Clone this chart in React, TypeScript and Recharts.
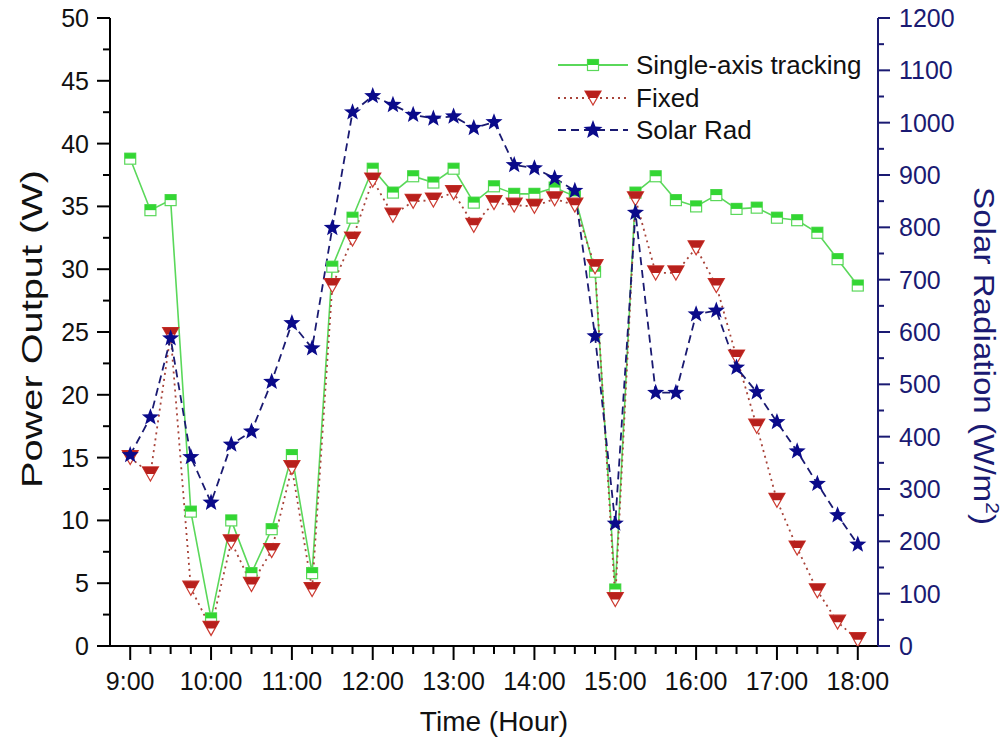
import React from "react";
import { ComposedChart, Line, XAxis, YAxis } from "recharts";

const times = [
  "9:00", "9:15", "9:30", "9:45", "10:00", "10:15", "10:30", "10:45",
  "11:00", "11:15", "11:30", "11:45", "12:00", "12:15", "12:30", "12:45",
  "13:00", "13:15", "13:30", "13:45", "14:00", "14:15", "14:30", "14:45",
  "15:00", "15:15", "15:30", "15:45", "16:00", "16:15", "16:30", "16:45",
  "17:00", "17:15", "17:30", "17:45", "18:00",
];
const tracking = [
  38.8, 34.7, 35.5, 10.7, 2.2, 10.0, 5.8, 9.3,
  15.2, 5.8, 30.2, 34.1, 38.0, 36.1, 37.4, 36.9,
  38.0, 35.3, 36.6, 36.0, 36.0, 36.5, 35.8, 29.8,
  4.5, 36.1, 37.4, 35.5, 35.0, 35.9, 34.8, 34.9,
  34.1, 33.9, 32.9, 30.8, 28.7,
];
const fixed = [
  15.0, 13.7, 24.8, 4.6, 1.4, 8.3, 4.9, 7.6,
  14.2, 4.5, 28.7, 32.4, 37.1, 34.3, 35.4, 35.5,
  36.1, 33.5, 35.3, 35.1, 35.0, 35.6, 35.1, 30.2,
  3.7, 35.6, 29.7, 29.7, 31.7, 28.7, 23.0, 17.5,
  11.6, 7.8, 4.4, 1.9, 0.5,
];
const solarRad = [
  365, 437, 588, 361, 274, 385, 410, 505,
  617, 569, 799, 1020, 1051, 1034, 1015, 1008,
  1012, 990, 1001, 919, 913, 894, 870, 592,
  234, 828, 484, 484, 634, 641, 532, 485,
  428, 372, 310, 250, 194,
];
const hourTicks = ["9:00", "10:00", "11:00", "12:00", "13:00", "14:00", "15:00", "16:00", "17:00", "18:00"];
const powerTicks = [0, 2.5, 5, 7.5, 10, 12.5, 15, 17.5, 20, 22.5, 25, 27.5, 30, 32.5, 35, 37.5, 40, 42.5, 45, 47.5, 50];
const powerLabels = [0, 5, 10, 15, 20, 25, 30, 35, 40, 45, 50];
const radTicks = [0, 50, 100, 150, 200, 250, 300, 350, 400, 450, 500, 550, 600, 650, 700, 750, 800, 850, 900, 950, 1000, 1050, 1100, 1150, 1200];
const radLabels = [0, 100, 200, 300, 400, 500, 600, 700, 800, 900, 1000, 1100, 1200];

const toHour = (t: string) => {
  const [h, m] = t.split(":").map(Number);
  return h + m / 60;
};
const fmtHour = (v: number) => {
  const h = Math.floor(v + 1e-6);
  const m = Math.round((v - h) * 60);
  return `${h}:${m < 10 ? "0" + m : m}`;
};

const data = times.map((t, i) => ({
  hour: toHour(t),
  tracking: tracking[i],
  fixed: fixed[i],
  solar: solarRad[i],
}));
const xTickValues = times.map(toHour);

const FONT = "'Liberation Sans', Arial, sans-serif";
const NAVY = "#1a1a72";
const GREEN_LINE = "#5ad85a";
const GREEN_FILL = "#33d633";
const RED_LINE = "#a8443a";
const RED_FILL = "#b8201c";
const STAR = "#0a0a8a";
const TICK_FONT = 25;
const TITLE_FONT = 28;

const XTick = (props: any) => {
  const { x, y, payload } = props;
  const label = fmtHour(payload.value);
  const major = hourTicks.includes(label);
  return (
    <g>
      <line x1={x} x2={x} y1={y} y2={y + (major ? 14 : 8)} stroke="#000" strokeWidth={2} />
      {major && (
        <text x={x} y={y + 44} textAnchor="middle" fontFamily={FONT} fontSize={TICK_FONT} fill="#111">
          {label}
        </text>
      )}
    </g>
  );
};

const TopTick = (props: any) => {
  const { x, y, payload } = props;
  const label = fmtHour(payload.value);
  const major = hourTicks.includes(label);
  return <line x1={x} x2={x} y1={y} y2={y + (major ? 10 : 7)} stroke="#000" strokeWidth={2} />;
};

const LeftTick = (props: any) => {
  const { x, y, payload } = props;
  const major = powerLabels.includes(payload.value);
  return (
    <g>
      <line x1={x} x2={x - (major ? 13 : 7)} y1={y} y2={y} stroke="#000" strokeWidth={2} />
      {major && (
        <text x={x - 21} y={y + 9} textAnchor="end" fontFamily={FONT} fontSize={TICK_FONT} fill="#111">
          {payload.value}
        </text>
      )}
    </g>
  );
};

const RightTick = (props: any) => {
  const { x, y, payload } = props;
  const major = radLabels.includes(payload.value);
  return (
    <g>
      <line x1={x} x2={x + (major ? 12 : 6)} y1={y} y2={y} stroke={NAVY} strokeWidth={2} />
      {major && (
        <text x={x + 21} y={y + 9} textAnchor="start" fontFamily={FONT} fontSize={TICK_FONT} fill={NAVY}>
          {payload.value}
        </text>
      )}
    </g>
  );
};

const Square = ({ cx, cy, s = 5.5 }: any) => (
  <g>
    <rect x={cx - s} y={cy - s} width={2 * s} height={2 * s} fill="#fff" stroke={GREEN_LINE} strokeWidth={1.2} />
    <rect x={cx - s} y={cy - s} width={2 * s} height={s} fill={GREEN_FILL} />
  </g>
);

const Tri = ({ cx, cy, w = 8, h = 7 }: any) => (
  <g>
    <polygon
      points={`${cx - w},${cy - h} ${cx + w},${cy - h} ${cx},${cy + h}`}
      fill="#fff"
      stroke="#cc3a30"
      strokeWidth={1.2}
    />
    <polygon
      points={`${cx - w},${cy - h} ${cx + w},${cy - h} ${cx + w / 2},${cy} ${cx - w / 2},${cy}`}
      fill={RED_FILL}
    />
  </g>
);

const starPoints = (cx: number, cy: number, R: number, r: number) => {
  const pts: string[] = [];
  for (let i = 0; i < 10; i++) {
    const rad = i % 2 === 0 ? R : r;
    const a = -Math.PI / 2 + (i * Math.PI) / 5;
    pts.push(`${cx + rad * Math.cos(a)},${cy + rad * Math.sin(a)}`);
  }
  return pts.join(" ");
};
const Star = ({ cx, cy, R = 9, r = 3.8 }: any) => <polygon points={starPoints(cx, cy, R, r)} fill={STAR} />;

const LegendBox = () => (
  <svg width={340} height={110} style={{ display: "block" }}>
    <line x1={8} x2={78} y1={20} y2={20} stroke={GREEN_LINE} strokeWidth={2} />
    <Square cx={43} cy={20} />
    <text x={86} y={29} fontFamily={FONT} fontSize={26} fill="#111">Single-axis tracking</text>
    <line x1={8} x2={78} y1={53} y2={53} stroke={RED_LINE} strokeWidth={2} strokeDasharray="2 4" />
    <Tri cx={43} cy={53} />
    <text x={86} y={62} fontFamily={FONT} fontSize={26} fill="#111">Fixed</text>
    <line x1={8} x2={78} y1={85} y2={85} stroke={NAVY} strokeWidth={2} strokeDasharray="8 5" />
    <Star cx={43} cy={85} R={10} r={4.2} />
    <text x={86} y={94} fontFamily={FONT} fontSize={26} fill="#111">Solar Rad</text>
  </svg>
);

export default function App() {
  return (
    <div style={{ position: "absolute", left: 0, top: 0, width: 1008, height: 754, background: "#fff" }}>
      <ComposedChart
        width={1008}
        height={754}
        data={data}
        margin={{ top: 18, right: 40, bottom: 48, left: 50 }}
      >
        <XAxis
          xAxisId="bottom"
          dataKey="hour"
          type="number"
          domain={[8.75, 18.25]}
          ticks={xTickValues}
          interval={0}
          height={60}
          tickSize={0}
          tickMargin={0}
          tick={<XTick />}
          axisLine={{ stroke: "#000", strokeWidth: 2 }}
          label={() => (
            <text x={494} y={731} textAnchor="middle" fontFamily={FONT} fontSize={TITLE_FONT} fill="#111">
              Time (Hour)
            </text>
          )}
        />
        <XAxis
          xAxisId="top"
          dataKey="hour"
          type="number"
          orientation="top"
          domain={[8.75, 18.25]}
          ticks={xTickValues}
          interval={0}
          height={0}
          tickSize={0}
          tickMargin={0}
          tick={<TopTick />}
          axisLine={{ stroke: "#000", strokeWidth: 2 }}
        />
        <YAxis
          yAxisId="left"
          domain={[0, 50]}
          ticks={powerTicks}
          interval={0}
          width={60}
          tickSize={0}
          tickMargin={0}
          tick={<LeftTick />}
          axisLine={{ stroke: "#000", strokeWidth: 2 }}
          label={() => (
            <text
              x={0}
              y={0}
              transform="translate(42,329) rotate(-90)"
              textAnchor="middle"
              fontFamily={FONT}
              fontSize={30}
              textLength={318}
              lengthAdjust="spacingAndGlyphs"
              fill="#111"
            >
              Power Output (W)
            </text>
          )}
        />
        <YAxis
          yAxisId="right"
          orientation="right"
          domain={[0, 1200]}
          ticks={radTicks}
          interval={0}
          width={90}
          tickSize={0}
          tickMargin={0}
          tick={<RightTick />}
          axisLine={{ stroke: NAVY, strokeWidth: 2 }}
          label={() => (
            <g transform="translate(974,356) rotate(90)">
              <text
                x={0}
                y={0}
                textAnchor="middle"
                fontFamily={FONT}
                fontSize={30}
                textLength={338}
                lengthAdjust="spacingAndGlyphs"
                fill={NAVY}
              >
                Solar Radiation (W/m
                <tspan dy={-12} fontSize={19}>2</tspan>
                <tspan dy={12}>)</tspan>
              </text>
            </g>
          )}
        />
        <Line
          xAxisId="bottom"
          yAxisId="left"
          dataKey="tracking"
          stroke={GREEN_LINE}
          strokeWidth={1.6}
          isAnimationActive={false}
          dot={(p: any) => <Square key={`sq-${p.index}`} cx={p.cx} cy={p.cy} />}
          activeDot={false}
        />
        <Line
          xAxisId="bottom"
          yAxisId="left"
          dataKey="fixed"
          stroke={RED_LINE}
          strokeWidth={1.8}
          strokeDasharray="2 4"
          isAnimationActive={false}
          dot={(p: any) => <Tri key={`tr-${p.index}`} cx={p.cx} cy={p.cy} />}
          activeDot={false}
        />
        <Line
          xAxisId="bottom"
          yAxisId="right"
          dataKey="solar"
          stroke={NAVY}
          strokeWidth={1.8}
          strokeDasharray="8 5"
          isAnimationActive={false}
          dot={(p: any) => <Star key={`st-${p.index}`} cx={p.cx} cy={p.cy} />}
          activeDot={false}
        />
      </ComposedChart>
      <div style={{ position: "absolute", left: 550, top: 45 }}>
        <LegendBox />
      </div>
    </div>
  );
}
